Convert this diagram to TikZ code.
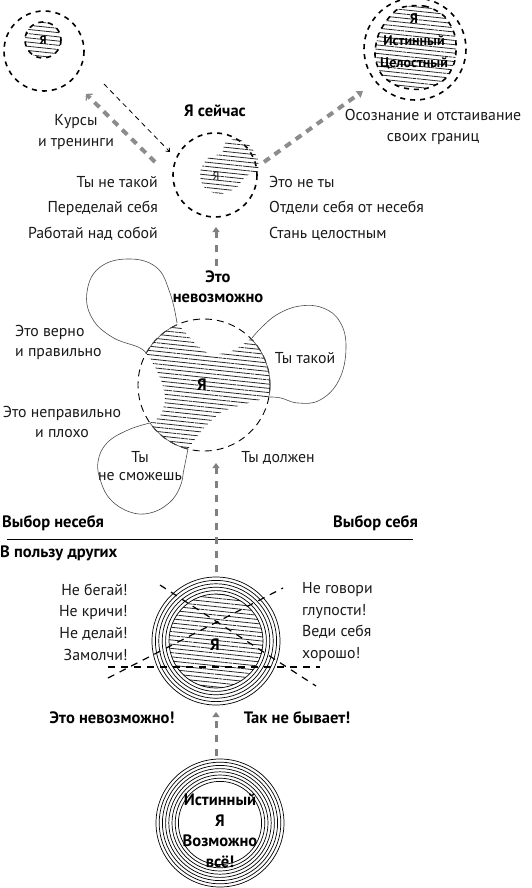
\documentclass[tikz,border=0pt]{standalone}
\usepackage{fontspec}
\setmainfont{PT Sans}
\usetikzlibrary{arrows.meta,calc,patterns.meta}

\newcommand{\fs}[1]{\fontsize{15.8}{#1}\selectfont}
\newcommand{\fb}[1]{\bfseries\fontsize{16.5}{#1}\selectfont}
\newcommand{\rings}[4]{% center, last index, step, outer radius
  \foreach \k in {0,...,#2}
    \draw[ring] (#1) circle ({#4-#3*\k});
}
\tikzset{
  say/.style={font=\fs{21},text=black!90,inner sep=0pt},
  shout/.style={font=\fb{21},inner sep=0pt},
  bigdash/.style={line width=1.6pt,dash pattern=on 5pt off 5pt},
  middash/.style={line width=0.9pt,dash pattern=on 7pt off 5pt},
  petal/.style={line width=0.6pt,draw=black!70},
  hatched/.style={pattern={Lines[angle=-6,distance=4.2pt,line width=0.8pt]},pattern color=black!85},
  way/.style={line width=4pt,draw=black!45,dash pattern=on 7pt off 6pt},
  wayup/.style={line width=3pt,draw=black!50,dash pattern=on 7pt off 7pt,-{Triangle[length=5pt,width=7pt]}},
  hint/.style={line width=0.8pt,dash pattern=on 5pt off 4pt,-{Straight Barb[length=3pt,width=5pt]}},
  ban/.style={line width=1.2pt,dash pattern=on 7pt off 6pt},
  ring/.style={line width=0.7pt}
}

\begin{document}
\begin{tikzpicture}[x=1pt,y=-1pt]
  \useasboundingbox (0,0) rectangle (531,888);

  % top left: old self
  \coordinate (oldC) at (44,51);
  \coordinate (oldI) at (43,40);
  \draw[bigdash] (oldC) circle (40);
  \draw[bigdash,hatched] (oldI) circle (18);
  \node[shout,font=\bfseries\fontsize{12}{13}\selectfont] (oldYa) at (oldI) {Я};

  % top right: true self
  \coordinate (trueC) at (415,49);
  \draw[bigdash] (trueC) circle (51);
  \draw[bigdash,hatched] plot[smooth cycle] coordinates {(398,9) (424,6) (444,16) (455,36) (455,60) (445,79) (424,89) (400,87) (382,75) (375,55) (380,31)};
  \node[shout,align=center,font=\bfseries\fontsize{14}{22}\selectfont] (trueYa) at (414,41) {Я\\Истинный\\Целостный};
  \node[say,align=center,font=\fs{21}] (bounds) at (433,127) {Осознание и отстаивание\\своих границ};

  % now
  \node[shout] (nowT) at (215,111) {Я сейчас};
  \coordinate (nowC) at (215,175);
  \draw[bigdash] (nowC) circle (42);
  \fill[hatched] plot[smooth cycle] coordinates {(200,172) (208,158) (222,153) (225,143) (237,139) (250,146) (258,160) (257,172) (246,176) (236,188) (219,194) (204,187)};
  \node[say,font=\fontsize{12}{13}\selectfont] (nowYa) at (216,176) {Я};
  \node[say,align=right,anchor=east,font=\fs{25.5}] (nowL) at (158,208) {Ты не такой\\Переделай себя\\Работай над собой};
  \node[say,align=left,anchor=west,font=\fs{25.5}] (nowR) at (269,208) {Это не ты\\Отдели себя от несебя\\Стань целостным};
  \node[say,align=center] (kurs) at (76,132) {Курсы\\и тренинги};

  \coordinate (kursA) at (155,162);
  \coordinate (kursB) at (86,94);
  \coordinate (backA) at (104,84);
  \coordinate (backB) at (170,152);
  \coordinate (growA) at (264,162);
  \coordinate (growB) at (363,91);
  \draw[way,-{Straight Barb[length=4pt,width=9pt,line width=1.2pt]}] (kursA) -- (kursB);
  \draw[hint] (backA) -- (backB);
  \draw[way,-{Triangle[length=6pt,width=8pt]}] (growA) -- (growB);

  % middle: the self and the rules
  \coordinate (midC) at (204,385);
  \begin{scope}
    \clip (midC) circle (66);
    \fill[hatched] (120,362) -- (146,353)
      -- plot[smooth] coordinates {(146,353) (155,367) (162,383) (165,400) (160,416) (150,423)}
      -- (118,442) -- (175,490) -- (188,449)
      -- plot[smooth] coordinates {(188,449) (204,428) (222,412) (245,404) (270,397)}
      -- (300,400) -- (300,318) -- (252,338)
      -- plot[smooth] coordinates {(252,338) (232,351) (210,354) (194,342) (177,323)}
      -- (160,298) -- cycle;
  \end{scope}
  \draw[middash] (midC) circle (66);
  \draw[petal] plot[domain=114:151.5,samples=15] ({204+66*cos(\x)},{385-66*sin(\x)});
  \draw[petal] plot[domain=-10.3:44.4,samples=15] ({204+66*cos(\x)},{385-66*sin(\x)});
  \draw[petal] plot[domain=215:256,samples=15] ({204+66*cos(\x)},{385-66*sin(\x)});
  \draw[petal] plot[smooth,tension=0.7] coordinates {(146,353) (138,347) (112,337) (92,318) (87,292) (99,268) (127,259) (156,267) (170,293) (177,323)};
  \draw[petal] plot[smooth,tension=0.7] coordinates {(252,338) (262,327) (278,314) (300,306) (323,308) (340,322) (346,348) (339,380) (320,400) (298,403) (281,398) (270,397)};
  \draw[petal] plot[smooth,tension=0.7] coordinates {(150,423) (128,430) (107,443) (98,462) (101,482) (111,500) (130,512) (150,513) (169,503) (180,487) (184,469) (188,449)};
  \node[shout] (midYa) at (202,385) {Я};
  \node[shout,align=center,font=\fb{20}] (imp) at (218,287) {Это\\невозможно};
  \node[say,align=left,anchor=west,font=\fs{20}] (right) at (15,342) {Это верно\\и правильно};
  \node[say,align=center,font=\fs{20}] (wrong) at (62,422) {Это неправильно\\и плохо};
  \node[say,align=center,font=\fs{18}] (cant) at (140,466) {Ты\\не сможешь};
  \node[say] (such) at (305,358) {Ты такой};
  \node[say] (must) at (278,458) {Ты должен};

  \coordinate (impUp) at (216,266);
  \coordinate (nowDown) at (216,227);
  \draw[wayup] (impUp) -- (nowDown);

  % the choice line
  \coordinate (lineL) at (7,539);
  \coordinate (lineR) at (413,539);
  \draw[line width=1pt] (lineL) -- (lineR);
  \node[shout,anchor=west] (notme) at (2,523) {Выбор несебя};
  \node[shout,anchor=east] (me) at (418,523) {Выбор себя};
  \node[shout,anchor=west] (others) at (0,553) {В пользу других};

  % for others
  \coordinate (othC) at (216,641);
  \fill[hatched] (othC) circle (47);
  \rings{othC}{5}{3.4}{64}
  \node[shout] (othYa) at (215,645) {Я};
  \coordinate (b1) at (160,585);
  \coordinate (b2) at (316,686);
  \coordinate (b3) at (108,678);
  \coordinate (b4) at (283,588);
  \coordinate (b5) at (108,667);
  \coordinate (b6) at (320,667);
  \draw[ban] (b1) -- (b2);
  \draw[ban] (b3) -- (b4);
  \draw[ban] (b5) -- (b6);
  \node[say,align=right,anchor=east,font=\fs{21.6}] (donts) at (128,622) {Не бегай!\\Не кричи!\\Не делай!\\Замолчи!};
  \node[say,align=left,anchor=west,font=\fs{21.6}] (dos) at (302,622) {Не говори\\глупости!\\Веди себя\\хорошо!};
  \node[shout] (noway) at (112,718) {Это невозможно!};
  \node[shout] (never) at (297,718) {Так не бывает!};

  \coordinate (othUp) at (216,572);
  \coordinate (midDown) at (216,463);
  \draw[wayup] (othUp) -- (midDown);

  % true self at the bottom
  \coordinate (realC) at (220,823);
  \rings{realC}{7}{3.2}{64}
  \node[shout,align=center,font=\fb{20.5}] (realT) at (220,831) {Истинный\\Я\\Возможно\\всё!};
  \coordinate (realUp) at (216,756);
  \coordinate (othDown) at (216,712);
  \draw[wayup] (realUp) -- (othDown);
\end{tikzpicture}
\end{document}
